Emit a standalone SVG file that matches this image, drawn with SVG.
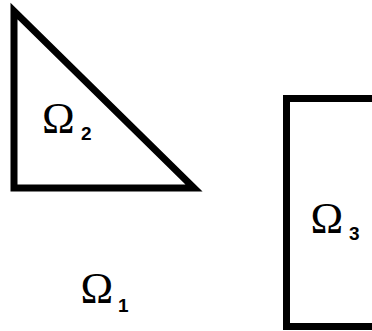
<svg xmlns="http://www.w3.org/2000/svg" width="372" height="331" viewBox="0 0 372 331">
<style>
.shape{fill:none;stroke:#000;stroke-width:7;stroke-linejoin:miter;stroke-miterlimit:10}
.om{font-family:"Liberation Serif",serif;font-size:44px;fill:#000}
.sub{font-family:"Liberation Sans",Arial,sans-serif;font-size:19px;font-weight:bold;fill:#000}
</style>
<rect width="372" height="331" fill="#fff"/>
<g id="omega2">
<polygon class="shape" points="14,11 14,188 194,188"/>
<text class="om" x="42" y="133">Ω</text><text class="sub" x="81" y="140">2</text>
</g>
<g id="omega3">
<path class="shape" d="M380,98.5 H286.5 V326.5 H380"/>
<text class="om" x="310.5" y="233">Ω</text><text class="sub" x="349" y="240">3</text>
</g>
<g id="omega1">
<text class="om" x="80.5" y="303">Ω</text><text class="sub" x="118" y="312">1</text>
</g>
<g id="connectors"/>
</svg>
